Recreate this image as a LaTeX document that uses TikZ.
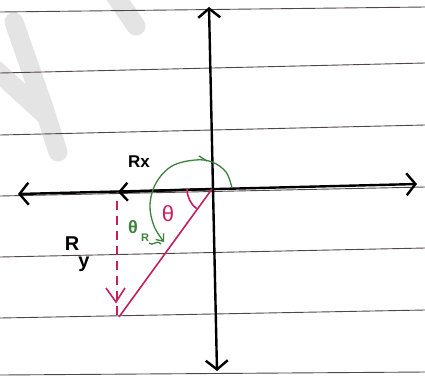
\documentclass[tikz,border=0pt]{standalone}
\usepackage{fontspec}
\setsansfont{Liberation Sans}
\usetikzlibrary{arrows.meta}
\definecolor{magen}{RGB}{196,32,96}
\definecolor{grn}{RGB}{62,128,62}
\definecolor{rulec}{RGB}{80,70,70}
\definecolor{wmark}{RGB}{228,228,228}
\tikzset{
  rule/.style={rulec,line width=0.9pt},
  axisline/.style={black,line width=2.4pt,{Straight Barb[length=9pt,width=22pt,line width=2.4pt]}-{Straight Barb[length=9pt,width=22pt,line width=2.4pt]}},
  rxarrow/.style={black,line width=2.4pt,-{Straight Barb[length=8pt,width=18pt,line width=2.4pt]}},
  magline/.style={magen,line width=1.6pt},
  grnline/.style={grn,line width=1.3pt},
  lbl/.style={inner sep=0pt},
  wm/.style={wmark,line width=19pt,line cap=round,line join=round}
}
\begin{document}
\begin{tikzpicture}[x=1pt,y=-1pt]
\useasboundingbox (0,0) rectangle (425,376);
\fill[white] (0,0) rectangle (425,376);
% watermark
\draw[wm] (14,22) -- (44,108) -- (58,152);
\draw[wm] (-4,70) -- (44,114);
\draw[wm] (114,-6) -- (136,26);
% ruled lines
\draw[rule] (0,12) -- (425,7);
\draw[rule] (0,73) -- (425,63);
\draw[rule] (0,135) -- (425,125);
\draw[rule] (0,196) -- (425,187);
\draw[rule] (0,257) -- (425,248);
\draw[rule] (0,318) -- (425,310);
\draw[rule] (0,375) -- (425,372);
% coordinates
\coordinate (O) at (212,189);
\coordinate (L) at (18,194);
\coordinate (Rt) at (417,184);
\coordinate (T) at (209,7);
\coordinate (B) at (217,371);
\coordinate (RxEnd) at (118,192);
\coordinate (DTop) at (117,201);
\coordinate (DBot) at (117,316);
\coordinate (RBot) at (119,317);
\coordinate (DTip) at (116,302);
% axes
\draw[axisline] (L) -- (Rt);
\draw[axisline] (B) -- (T);
% Rx
\draw[rxarrow] (O) -- (RxEnd);
\node[lbl,font=\sffamily\bfseries\fontsize{17}{17}\selectfont] (rx) at (139,162) {Rx};
% Ry dashed
\draw[magline,dash pattern=on 9pt off 6pt] (DTop) -- (DBot);
\draw[magline] (106,288) -- (DTip) -- (125,288);
\node[lbl,font=\sffamily\bfseries\fontsize{20}{20}\selectfont] (ry) at (72,244) {R};
\node[lbl,font=\sffamily\bfseries\fontsize{20}{20}\selectfont] (ysub) at (84,264) {y};
% resultant
\draw[magline] (O) -- (RBot);
\draw[magline] (O) ++(-25,0) arc[start angle=180,end angle=128,radius=25];
\node[lbl,magen,font=\sffamily\fontsize{22}{22}\selectfont] (th) at (168,214) {θ};
% green angle
\draw[grnline,-{Straight Barb[length=6pt,width=10pt]}] plot[smooth,tension=0.6] coordinates {(232,188) (226,172) (212,162) (195,160) (172,166) (156,183) (150,205) (154,226) (164,242)};
\draw[grnline] (199,156) -- (207,161);
\node[lbl,grn,font=\sffamily\bfseries\fontsize{18}{18}\selectfont] (thr) at (133,227) {θ};
\node[lbl,grn,font=\sffamily\bfseries\fontsize{11}{11}\selectfont] (rsub) at (145,238) {R};
\draw[grnline] (149,243) .. controls (153,247) and (156,239) .. (161,244);
\end{tikzpicture}
\end{document}
